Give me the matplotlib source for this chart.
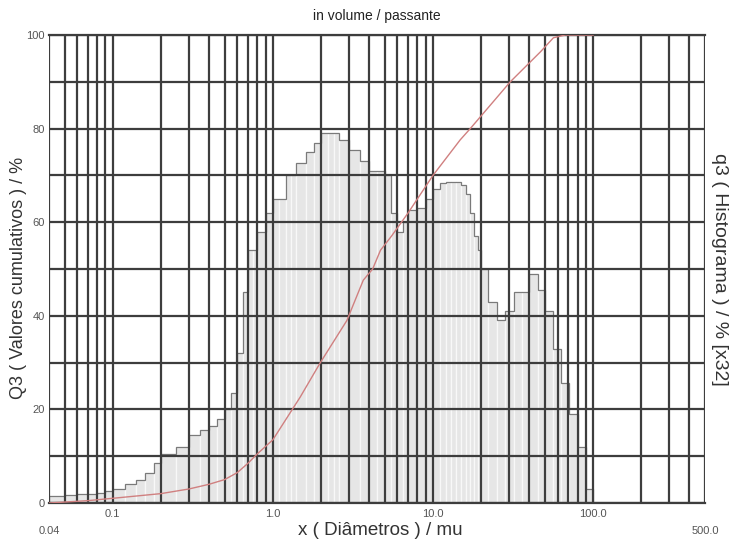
import matplotlib
matplotlib.use("Agg")
import matplotlib.pyplot as plt
from matplotlib.ticker import LogLocator, MultipleLocator, NullFormatter, FixedLocator
import numpy as np

plt.rcParams['font.family'] = ['Liberation Sans', 'DejaVu Sans']

# class edges (mu) and histogram q3 per class (scaled x32)
class_edges = [0.04, 0.05, 0.06, 0.07, 0.08, 0.09, 0.10,
               0.12, 0.14, 0.16, 0.18, 0.20,
               0.25, 0.30, 0.35, 0.40, 0.45, 0.50, 0.55, 0.60, 0.65, 0.70, 0.75,
               0.80, 0.90, 1.0,
               1.1, 1.2, 1.3, 1.4,
               1.6, 1.8, 2.0, 2.2, 2.4, 2.6,
               3.0, 3.5, 4.0, 4.5, 5.0, 5.5, 6.0, 6.5, 7.0,
               8.0, 9.0, 10.0,
               11.0, 12.0, 13.0, 14.0, 15.0, 16.0, 17.0, 18.0, 19.0, 20.0,
               22.0, 25.0, 28.0, 32.0, 36.0, 40.0, 45.0, 50.0, 56.0, 63.0, 71.0, 80.0, 90.0, 100.0]
q3_hist = [1.5, 1.8, 2.0, 2.0, 2.2, 2.5,
           3.0, 4.0, 5.0, 6.5, 8.5,
           10.5, 12.0, 14.5, 15.5, 16.5, 18.0, 20.0, 23.5, 32.0, 45.0, 54.0,
           54.0, 58.0, 62.0,
           65.0, 65.0, 70.0, 70.0,
           72.6, 75.0, 77.0, 79.0, 79.0, 79.0,
           77.5, 75.4, 73.0, 71.0, 71.0, 70.0, 62.0, 58.0, 60.0,
           62.6, 63.0, 65.0,
           67.0, 68.4, 68.5, 68.6, 68.6, 68.0, 66.0, 62.0, 57.0, 54.0,
           50.0, 43.0, 39.0, 41.0, 45.0, 45.0, 49.0, 45.5, 41.0, 33.0, 25.6, 19.0, 12.0, 3.0]

# cumulative Q3 (passante)
cum_x = [0.04, 0.07, 0.1, 0.2, 0.3, 0.4, 0.5, 0.6, 0.7, 0.8, 1.0, 1.48, 1.98, 2.9,
         3.67, 4.2, 4.7, 5.5, 7.0, 10.0, 14.8, 17.1, 30.4, 46.9, 56.5, 67.0, 100.0]
cum_q3 = [0.0, 0.5, 1.0, 2.0, 3.0, 4.0, 5.0, 6.5, 8.5, 10.5, 13.5, 22.6, 30.0, 39.0,
          47.6, 50.0, 54.0, 57.0, 62.0, 70.0, 77.6, 80.0, 90.0, 96.4, 99.4, 100.0, 100.0]

x_ticks = [0.1, 1.0, 10.0, 100.0]
x_tick_labels = ["0.1", "1.0", "10.0", "100.0"]
y_ticks = [0, 20, 40, 60, 80, 100]

fig = plt.figure(figsize=(7.37, 5.45), dpi=100)
ax = fig.add_axes([0.0665, 0.0771, 0.8901, 0.8587])

edges = np.array(class_edges)
ax.bar(edges[:-1], q3_hist, width=np.diff(edges), align="edge",
       facecolor="#e6e6e6", edgecolor="#f8f8f8", linewidth=0.9, zorder=1)
ax.stairs(q3_hist, edges, color="#7a7a7a", linewidth=0.9, zorder=1.5)

ax.plot(cum_x, cum_q3, color="#d08080", linewidth=1.0, zorder=3)

ax.set_xscale("log")
ax.set_xlim(0.04, 500)
ax.set_ylim(0, 100)

ax.xaxis.set_major_locator(FixedLocator(x_ticks))
ax.set_xticklabels(x_tick_labels)
ax.xaxis.set_minor_locator(LogLocator(base=10, subs=range(2, 10)))
ax.xaxis.set_minor_formatter(NullFormatter())
ax.yaxis.set_major_locator(FixedLocator(y_ticks))
ax.yaxis.set_minor_locator(MultipleLocator(10))

ax.set_axisbelow(False)
ax.grid(True, which="both", color="#3d3d3d", linewidth=1.6)
ax.tick_params(which="both", length=0, labelsize=8, labelcolor="#555555")
ax.tick_params(axis="x", pad=4)
ax.tick_params(axis="y", pad=3)

for side in ["left", "right"]:
    ax.spines[side].set_visible(False)
for side in ["top", "bottom"]:
    ax.spines[side].set_color("#3d3d3d")
    ax.spines[side].set_linewidth(1.6)

# end labels of the diameter axis sit lower
ax.text(0.04, -0.05, "0.04", transform=ax.get_xaxis_transform(), ha="center", va="top",
        fontsize=8, color="#555555")
ax.text(500, -0.05, "500.0", transform=ax.get_xaxis_transform(), ha="center", va="top",
        fontsize=8, color="#555555")

ax.set_title("in volume / passante", fontsize=10, color="#222222", pad=11)
ax.set_xlabel("x ( Diâmetros ) / mu", fontsize=13.5, color="#333333")
ax.xaxis.set_label_coords(0.505, -0.058, transform=ax.transAxes)
ax.xaxis.label.set_va("center")
ax.set_ylabel("Q3 ( Valores cumulativos ) / %", fontsize=13, color="#333333")
ax.yaxis.set_label_coords(-0.047, 0.48)
ax.yaxis.label.set_va("center")

ax2 = ax.twinx()
ax2.set_yticks([])
for side in ax2.spines:
    ax2.spines[side].set_visible(False)
ax2.set_ylabel("q3 ( Histograma ) / % [x32]", fontsize=14, color="#333333", rotation=-90)
ax2.yaxis.set_label_coords(1.022, 0.50)
ax2.yaxis.label.set_va("center")

fig.savefig("out.png", dpi=100)
